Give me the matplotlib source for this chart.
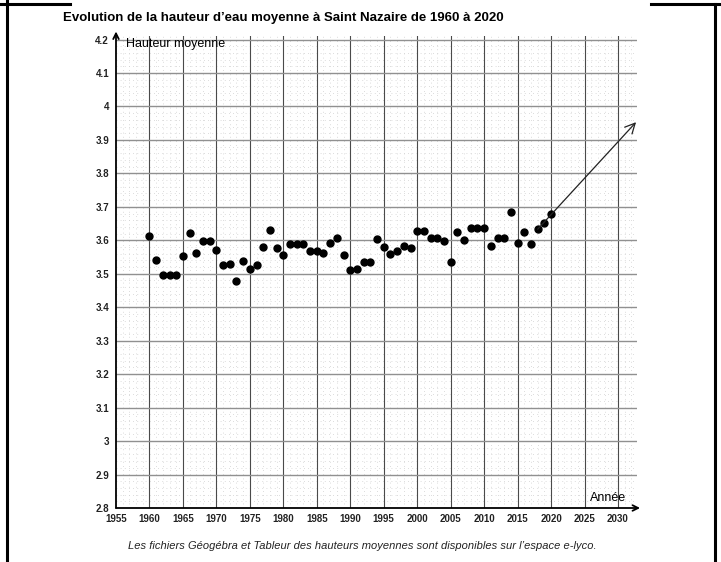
import matplotlib
matplotlib.use("Agg")
import matplotlib.pyplot as plt
from matplotlib.lines import Line2D
import numpy as np

# mean water height at Saint Nazaire
years = list(range(1960, 2021))
heights = [
    3.612, 3.541, 3.495, 3.495, 3.495, 3.552, 3.621, 3.561, 3.597, 3.597,
    3.571, 3.527, 3.530, 3.479, 3.539, 3.514, 3.527, 3.580, 3.631, 3.578,
    3.555, 3.590, 3.590, 3.590, 3.569, 3.567, 3.561, 3.593, 3.607, 3.555,
    3.510, 3.513, 3.536, 3.536, 3.603, 3.581, 3.559, 3.567, 3.584, 3.576,
    3.629, 3.629, 3.608, 3.608, 3.597, 3.536, 3.624, 3.601, 3.638, 3.636,
    3.636, 3.584, 3.608, 3.608, 3.686, 3.593, 3.626, 3.589, 3.633, 3.651,
    3.678,
]

# trend arrow drawn on the sheet
trend_start = (2018, 3.633)
trend_end = (2032.7, 3.953)

x_ticks = list(range(1955, 2031, 5))
y_ticks = [2.8, 2.9, 3.0, 3.1, 3.2, 3.3, 3.4, 3.5, 3.6, 3.7, 3.8, 3.9, 4.0, 4.1, 4.2]
y_tick_labels = ["2.8", "2.9", "3", "3.1", "3.2", "3.3", "3.4", "3.5",
                 "3.6", "3.7", "3.8", "3.9", "4", "4.1", "4.2"]

plt.rcParams["font.family"] = ["Liberation Sans", "DejaVu Sans"]

W, H = 721, 562
fig = plt.figure(figsize=(W / 100, H / 100), dpi=100)
ax = fig.add_axes([116 / W, 54 / H, 521 / W, 472 / H])

ax.set_xlim(1955, 2032.84)
ax.set_ylim(2.8, 4.2105)

# minor dotted grid (1 year / 0.02)
for xv in np.arange(1956, 2033, 1):
    if xv % 5:
        ax.axvline(xv, color="#d0d0d0", lw=0.6, ls=(0, (1, 4)), zorder=0)
for yv in np.arange(2.82, 4.21, 0.02):
    if abs(yv * 10 - round(yv * 10)) > 1e-6:
        ax.axhline(yv, color="#d0d0d0", lw=0.6, ls=(0, (1, 4)), zorder=0)
# major grid
for xv in x_ticks[1:]:
    ax.axvline(xv, color="#4a4a4a", lw=0.8, zorder=1)
for yv in y_ticks[1:]:
    ax.axhline(yv, color="#909090", lw=1.0, zorder=1)

ax.set_xticks(x_ticks)
ax.set_xticklabels([str(v) for v in x_ticks], fontsize=7, fontweight="bold")
ax.set_yticks(y_ticks)
ax.set_yticklabels(y_tick_labels, fontsize=7, fontweight="bold")
ax.tick_params(length=0, pad=4, colors="#222222")
ax.tick_params(axis="y", pad=5)
for s in ax.spines.values():
    s.set_visible(False)

# axes with arrows
ax.annotate("", xy=(1955, 4.224), xytext=(1955, 2.8),
            arrowprops=dict(arrowstyle="->", lw=1.3, color="black",
                            shrinkA=0, shrinkB=0, mutation_scale=10),
            annotation_clip=False)
ax.annotate("", xy=(2033.3, 2.8), xytext=(1955, 2.8),
            arrowprops=dict(arrowstyle="->", lw=1.3, color="black",
                            shrinkA=0, shrinkB=0, mutation_scale=10),
            annotation_clip=False)

ax.scatter(years, heights, s=25, color="black", zorder=3)

ax.annotate("", xy=trend_end, xytext=trend_start,
            arrowprops=dict(arrowstyle="->", lw=0.9, color="#222222",
                            shrinkA=0, shrinkB=0, mutation_scale=18),
            annotation_clip=False)

ax.text(1956.5, 4.187, "Hauteur moyenne", fontsize=9, va="center", ha="left")
ax.text(2025.8, 2.83, "Année", fontsize=9, va="center", ha="left")

fig.text(63 / W, 1 - 18 / H,
         "Evolution de la hauteur d\u2019eau moyenne à Saint Nazaire de 1960 à 2020",
         fontsize=9.5, fontweight="bold", va="center", ha="left")
fig.text(362 / W, 1 - 546 / H,
         "Les fichiers Géogébra et Tableur des hauteurs moyennes sont disponibles sur l\u2019espace e-lyco.",
         fontsize=8, style="italic", va="center", ha="center", color="#222222")

# scanned table cell border
for xs, ys in [([7, 7], [0, H]), ([715, 715], [0, H - 4]),
               ([0, 70], [H - 4, H - 4]), ([651, 721], [H - 4, H - 4])]:
    fig.add_artist(Line2D([x / W for x in xs], [y / H for y in ys],
                          transform=fig.transFigure, color="black", lw=2.2))

fig.savefig("out.png", dpi=100)
